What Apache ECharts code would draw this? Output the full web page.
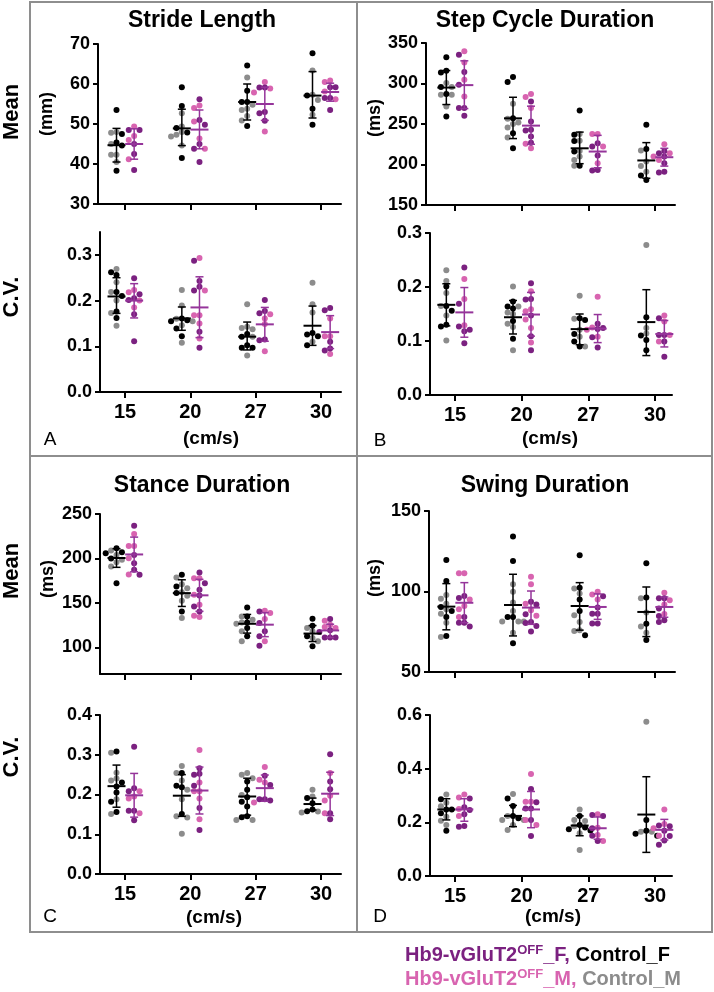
<!DOCTYPE html>
<html lang="en">
  <head>
    <meta charset="UTF-8" />
    <title>Gait parameters</title>
    <script src="https://cdn.jsdelivr.net/npm/echarts@6/dist/echarts.min.js"></script>
    <style>
      html, body { margin: 0; padding: 0; background: #fff; }
    </style>
  </head>
  <body>
    <div id="main" style="width: 714px; height: 992px"></div>
    <script type="text/javascript">
      var speeds = ["15", "20", "27", "30"];

      // A - stride length
      var strideMeanTicks = [30, 40, 50, 60, 70];
      var strideMeanCtrlF = [[53.5, 47.5, 45.4, 44.6, 38.3], [59.2, 54.5, 47.9, 41.5, 49.0], [64.6, 58.3, 55.5, 55.5, 49.5], [67.7, 57.1, 53.8, 49.8]];
      var strideMeanCtrlM = [[48.0, 47.8, 42.3, 42.3, 40.5, 45.0], [52.7, 49.4, 48.0, 47.3, 46.9, 44.6], [61.6, 54.8, 53.8, 53.5, 52.0, 50.9], [63.4, 57.3, 56.0, 52.3]];
      var strideMeanHb9F = [[48.5, 48.5, 45.0, 42.5, 38.5], [56.2, 51.0, 49.8, 45.0, 43.8, 40.5], [59.1, 59.1, 53.0, 52.7, 50.8], [59.2, 59.2, 56.5, 56.5, 53.5]];
      var strideMeanHb9M = [[49.4, 47.0, 46.0, 41.2], [54.6, 54.0, 50.6, 46.4, 43.8], [60.5, 58.9, 57.9, 48.1], [60.9, 60.5, 58.1, 56.2]];
      var strideMeanCtrlBar = [[44.7, 40.5, 48.9], [48.9, 44.6, 53.7], [55.5, 51.0, 60.0], [57.1, 51.5, 63.1]];
      var strideMeanHb9Bar = [[45.0, 41.2, 48.8], [48.6, 43.8, 53.5], [55.0, 50.9, 59.2], [58.0, 55.7, 60.2]];

      var strideCVTicks = [0, 0.1, 0.2, 0.3];
      var strideCVCtrlF = [[0.262, 0.256, 0.219, 0.21, 0.176, 0.162], [0.161, 0.157, 0.155, 0.139, 0.122], [0.127, 0.121, 0.102, 0.097, 0.097], [0.129, 0.126, 0.122, 0.102]];
      var strideCVCtrlM = [[0.269, 0.24, 0.219, 0.2, 0.173, 0.145], [0.223, 0.189, 0.16, 0.155, 0.146, 0.108], [0.192, 0.143, 0.14, 0.137, 0.121, 0.08], [0.239, 0.192, 0.174, 0.11]];
      var strideCVHb9F = [[0.249, 0.214, 0.205, 0.201, 0.17, 0.111], [0.287, 0.243, 0.23, 0.222, 0.132, 0.097], [0.201, 0.177, 0.172, 0.115, 0.113], [0.184, 0.179, 0.11, 0.095, 0.091]];
      var strideCVHb9M = [[0.223, 0.218, 0.2, 0.185], [0.293, 0.222, 0.168, 0.168, 0.15, 0.117], [0.17, 0.161, 0.149, 0.089], [0.161, 0.122, 0.122, 0.083]];
      var strideCVCtrlBar = [[0.209, 0.172, 0.25], [0.161, 0.135, 0.186], [0.121, 0.092, 0.153], [0.145, 0.102, 0.188]];
      var strideCVHb9Bar = [[0.2, 0.162, 0.237], [0.185, 0.119, 0.252], [0.148, 0.111, 0.185], [0.131, 0.095, 0.167]];

      // B - step cycle duration
      var stepMeanTicks = [150, 200, 250, 300, 350];
      var stepMeanCtrlF = [[332.3, 315.8, 313.7, 295.6, 287.0, 259.3], [308.0, 301.7, 257.2, 238.7, 220.0], [266.7, 236.6, 229.0, 216.0, 198.6], [249.0, 219.2, 186.3, 181.0]];
      var stepMeanCtrlM = [[300.5, 295.6, 286.0, 286.0, 271.6], [275.0, 256.4, 252.0, 250.0, 245.7, 233.3], [237.6, 229.2, 216.8, 210.0, 205.7, 198.6], [217.2, 203.6, 198.0, 191.2]];
      var stepMeanHb9F = [[335.6, 314.1, 298.4, 269.6, 269.6, 260.1], [277.8, 253.0, 242.8, 242.0, 234.5, 227.0], [226.3, 222.2, 211.0, 193.3, 192.5], [216.8, 214.0, 210.0, 201.5, 191.2, 190.0]];
      var stepMeanHb9M = [[339.7, 326.0, 304.6, 284.0], [286.9, 283.2, 269.6, 225.5, 220.0], [237.8, 237.8, 222.2, 201.5], [225.0, 214.0, 210.0, 205.7]];
      var stepMeanCtrlBar = [[295, 274, 316], [257, 232, 283], [220, 201, 240], [205, 183, 227]];
      var stepMeanHb9Bar = [[298, 269, 328], [248, 225, 272], [216, 196, 236], [209, 198, 220]];

      var stepCVTicks = [0, 0.1, 0.2, 0.3];
      var stepCVCtrlF = [[0.201, 0.165, 0.156, 0.13, 0.127], [0.173, 0.164, 0.16, 0.137, 0.104], [0.142, 0.139, 0.113, 0.099, 0.09], [0.144, 0.11, 0.102, 0.083]];
      var stepCVCtrlM = [[0.231, 0.211, 0.189, 0.165, 0.147, 0.101], [0.201, 0.164, 0.153, 0.15, 0.132, 0.126, 0.083], [0.184, 0.141, 0.121, 0.108, 0.09], [0.278, 0.124, 0.114]];
      var stepCVHb9F = [[0.236, 0.169, 0.127, 0.121, 0.118, 0.096], [0.207, 0.178, 0.177, 0.147, 0.109, 0.083], [0.132, 0.124, 0.122, 0.107, 0.088], [0.142, 0.111, 0.111, 0.099, 0.071]];
      var stepCVHb9M = [[0.215, 0.178, 0.129], [0.192, 0.159, 0.155, 0.14, 0.124, 0.097], [0.182, 0.125, 0.121, 0.108], [0.147, 0.136, 0.111, 0.099]];
      var stepCVCtrlBar = [[0.167, 0.128, 0.206], [0.144, 0.113, 0.175], [0.122, 0.093, 0.15], [0.135, 0.073, 0.195]];
      var stepCVHb9Bar = [[0.153, 0.107, 0.199], [0.149, 0.109, 0.19], [0.123, 0.097, 0.149], [0.113, 0.089, 0.138]];

      // C - stance duration
      var stanceMeanTicks = [100, 150, 200, 250];
      var stanceMeanCtrlF = [[211.5, 207.0, 205.9, 200.0, 172.2], [181.6, 168.5, 161.0, 140.4], [144.9, 134.8, 128.0, 121.8, 112.4], [132.2, 124.3, 112.4, 101.2]];
      var stanceMeanCtrlM = [[209.0, 204.0, 198.4, 195.8, 190.9], [178.6, 171.0, 166.6, 162.0, 158.0, 152.4, 132.9], [134.8, 131.0, 128.0, 126.6, 118.0, 106.8], [121.7, 118.0, 110.5, 106.8]];
      var stanceMeanHb9F = [[236.9, 204.0, 194.6, 187.2, 181.6], [184.2, 172.2, 164.7, 158.4, 146.0, 140.4], [140.4, 127.3, 118.0, 112.4, 101.9], [131.8, 119.1, 117.2, 111.2, 111.2, 111.2]];
      var stanceMeanHb9M = [[227.6, 214.0, 214.0, 200.3, 182.0], [177.8, 177.8, 159.1, 148.0, 135.6, 134.0], [141.2, 138.5, 132.0, 106.8], [129.9, 125.5, 123.0, 121.7]];
      var stanceMeanCtrlBar = [[200.5, 190, 211], [161, 146, 176], [126.5, 116, 137], [115.5, 106.5, 124.5]];
      var stanceMeanHb9Bar = [[204.5, 185, 224], [158.5, 140.5, 176.5], [125.5, 112, 139], [119, 111, 126]];

      var stanceCVTicks = [0, 0.1, 0.2, 0.3, 0.4];
      var stanceCVCtrlF = [[0.308, 0.23, 0.22, 0.205, 0.182, 0.156], [0.254, 0.222, 0.218, 0.151], [0.233, 0.212, 0.193, 0.182, 0.17, 0.145, 0.143], [0.191, 0.178, 0.162, 0.158]];
      var stanceCVCtrlM = [[0.305, 0.255, 0.24, 0.235, 0.188, 0.151], [0.272, 0.254, 0.235, 0.212, 0.188, 0.145, 0.142, 0.101], [0.254, 0.25, 0.241, 0.199, 0.136, 0.136], [0.212, 0.195, 0.157, 0.155]];
      var stanceCVHb9F = [[0.32, 0.216, 0.208, 0.159, 0.159, 0.135], [0.266, 0.252, 0.25, 0.222, 0.166, 0.111], [0.247, 0.224, 0.188, 0.188, 0.185], [0.301, 0.233, 0.213, 0.153, 0.138]];
      var stanceCVHb9M = [[0.208, 0.195, 0.19, 0.153], [0.312, 0.23, 0.208, 0.208, 0.19, 0.138], [0.269, 0.237, 0.23, 0.18], [0.254, 0.197, 0.185, 0.153]];
      var stanceCVCtrlBar = [[0.221, 0.168, 0.274], [0.197, 0.145, 0.25], [0.195, 0.148, 0.241], [0.176, 0.161, 0.191]];
      var stanceCVHb9Bar = [[0.198, 0.143, 0.253], [0.21, 0.151, 0.269], [0.216, 0.183, 0.249], [0.202, 0.147, 0.256]];

      // D - swing duration
      var swingMeanTicks = [50, 100, 150];
      var swingMeanCtrlF = [[119.6, 106.5, 90.4, 87.9, 84.2, 72.4], [134.1, 119.0, 84.2, 84.2, 67.8], [122.5, 102.4, 95.1, 87.9, 72.8], [117.5, 96.2, 80.0, 69.9]];
      var swingMeanCtrlM = [[97.8, 95.5, 92.4, 88.9, 86.2, 80.6, 71.7], [104.5, 99.9, 93.1, 87.9, 81.3, 81.3, 81.3, 74.4], [101.8, 98.7, 85.2, 81.1, 75.9, 75.5], [95.8, 86.9, 78.2, 74.4]];
      var swingMeanHb9F = [[97.2, 96.0, 84.2, 80.6, 80.6, 78.2], [93.7, 92.0, 85.8, 81.1, 80.5, 78.6, 75.1], [97.0, 90.0, 86.2, 86.2, 80.2, 80.2], [95.8, 95.8, 89.5, 84.8, 82.1, 81.1]];
      var swingMeanHb9M = [[111.3, 111.3, 95.1, 91.0, 88.9, 84.2], [109.2, 104.5, 92.4, 88.3, 85.0], [99.9, 98.2, 95.1], [99.3, 94.5, 92.0, 86.0]];
      var swingMeanCtrlBar = [[90.6, 76.2, 104.9], [91.6, 72.4, 110.7], [91, 76, 105.5], [87.3, 72, 102.8]];
      var swingMeanHb9Bar = [[93, 80.6, 105.5], [90, 79.6, 100.3], [90.4, 82.7, 98.5], [90.4, 84, 96.6]];

      var swingCVTicks = [0, 0.2, 0.4, 0.6];
      var swingCVCtrlF = [[0.286, 0.248, 0.248, 0.234, 0.169], [0.289, 0.261, 0.224, 0.215], [0.224, 0.19, 0.181, 0.174, 0.17], [0.209, 0.169, 0.157, 0.15]];
      var swingCVCtrlM = [[0.304, 0.273, 0.26, 0.221, 0.206, 0.19], [0.306, 0.224, 0.209, 0.209, 0.19, 0.171], [0.248, 0.209, 0.205, 0.185, 0.159, 0.097], [0.575, 0.165, 0.165]];
      var swingCVHb9F = [[0.289, 0.256, 0.246, 0.23, 0.186, 0.184], [0.324, 0.275, 0.252, 0.252, 0.209, 0.149], [0.227, 0.224, 0.178, 0.15, 0.13], [0.188, 0.185, 0.169, 0.149, 0.132, 0.116]];
      var swingCVHb9M = [[0.304, 0.293, 0.25, 0.224], [0.38, 0.277, 0.277, 0.209, 0.19], [0.23, 0.18, 0.153, 0.13], [0.248, 0.194, 0.178, 0.15]];
      var swingCVCtrlBar = [[0.248, 0.209, 0.288], [0.224, 0.184, 0.263], [0.188, 0.15, 0.224], [0.229, 0.088, 0.37]];
      var swingCVHb9Bar = [[0.248, 0.204, 0.288], [0.248, 0.18, 0.315], [0.178, 0.137, 0.22], [0.172, 0.134, 0.211]];

      var FONT = '"Liberation Sans", Arial, Helvetica, sans-serif';
      var BLACK = "#000000";
      var GRAY = "#8c8c8c";
      var PURPLE = "#7b2180";
      var PINK = "#d864b0";
      var HB9_BAR = "#95349a";
      var FRAME = "#8e8e8e";

      // grid boxes in pixels; c0/c3 = x of the first and last speed tick
      var subplots = [
        { f: strideMeanCtrlF, m: strideMeanCtrlM, hf: strideMeanHb9F, hm: strideMeanHb9M, cb: strideMeanCtrlBar, hb: strideMeanHb9Bar,
          ticks: strideMeanTicks, min: 30, max: 70, x0: 98, x1: 341, y0: 44, y1: 204, c0: 125, c3: 321, xLabels: false, dec: 0 },
        { f: strideCVCtrlF, m: strideCVCtrlM, hf: strideCVHb9F, hm: strideCVHb9M, cb: strideCVCtrlBar, hb: strideCVHb9Bar,
          ticks: strideCVTicks, min: 0, max: 0.35, x0: 100, x1: 341, y0: 232, y1: 392, c0: 125, c3: 321, xLabels: true, dec: 1 },
        { f: stepMeanCtrlF, m: stepMeanCtrlM, hf: stepMeanHb9F, hm: stepMeanHb9M, cb: stepMeanCtrlBar, hb: stepMeanHb9Bar,
          ticks: stepMeanTicks, min: 150, max: 350, x0: 426, x1: 675, y0: 43, y1: 205, c0: 455, c3: 655, xLabels: false, dec: 0 },
        { f: stepCVCtrlF, m: stepCVCtrlM, hf: stepCVHb9F, hm: stepCVHb9M, cb: stepCVCtrlBar, hb: stepCVHb9Bar,
          ticks: stepCVTicks, min: 0, max: 0.3, x0: 430, x1: 672, y0: 233, y1: 395, c0: 455, c3: 655, xLabels: true, dec: 1 },
        { f: stanceMeanCtrlF, m: stanceMeanCtrlM, hf: stanceMeanHb9F, hm: stanceMeanHb9M, cb: stanceMeanCtrlBar, hb: stanceMeanHb9Bar,
          ticks: stanceMeanTicks, min: 70, max: 250, x0: 100, x1: 341, y0: 514, y1: 674, c0: 125, c3: 321, xLabels: false, dec: 0 },
        { f: stanceCVCtrlF, m: stanceCVCtrlM, hf: stanceCVHb9F, hm: stanceCVHb9M, cb: stanceCVCtrlBar, hb: stanceCVHb9Bar,
          ticks: stanceCVTicks, min: 0, max: 0.4, x0: 100, x1: 341, y0: 715, y1: 874, c0: 125, c3: 321, xLabels: true, dec: 1 },
        { f: swingMeanCtrlF, m: swingMeanCtrlM, hf: swingMeanHb9F, hm: swingMeanHb9M, cb: swingMeanCtrlBar, hb: swingMeanHb9Bar,
          ticks: swingMeanTicks, min: 50, max: 150, x0: 429, x1: 675, y0: 511, y1: 672, c0: 455, c3: 655, xLabels: false, dec: 0 },
        { f: swingCVCtrlF, m: swingCVCtrlM, hf: swingCVHb9F, hm: swingCVHb9M, cb: swingCVCtrlBar, hb: swingCVHb9Bar,
          ticks: swingCVTicks, min: 0, max: 0.6, x0: 430, x1: 672, y0: 715, y1: 876, c0: 455, c3: 655, xLabels: true, dec: 1 },
      ];

      var CTRL_SHIFT = -0.13;
      var HB9_SHIFT = 0.14;

      // simple beeswarm: returns x offsets (category units) for each value
      function swarm(values, pxY, pxX) {
        var D = 5.4;
        var idx = values.map(function (v, i) { return i; });
        idx.sort(function (a, b) { return values[b] - values[a]; });
        var placed = [];
        var offs = [];
        idx.forEach(function (i) {
          var y = values[i] * pxY;
          for (var k = 0; k < 13; k++) {
            var o = k === 0 ? 0 : (k % 2 ? -1 : 1) * Math.ceil(k / 2) * D;
            var free = placed.every(function (p) {
              return Math.hypot(p[0] - o, p[1] - y) >= D - 0.01;
            });
            if (free) {
              offs[i] = o / pxX;
              placed.push([o, y]);
              return;
            }
          }
          offs[i] = 0;
        });
        return offs;
      }

      function groupPoints(fArr, mArr, shift, pxY, pxX) {
        var fPts = [], mPts = [];
        for (var j = 0; j < speeds.length; j++) {
          var vals = fArr[j].concat(mArr[j]);
          var offs = swarm(vals, pxY, pxX);
          fArr[j].forEach(function (v, k) { fPts.push([j + shift + offs[k], v]); });
          mArr[j].forEach(function (v, k) { mPts.push([j + shift + offs[fArr[j].length + k], v]); });
        }
        return [fPts, mPts];
      }

      var grids = [], xAxes = [], yAxes = [], series = [];

      subplots.forEach(function (p, i) {
        var spacing = (p.c3 - p.c0) / 3;
        var xmin = -(p.c0 - p.x0) / spacing;
        var xmax = 3 + (p.x1 - p.c3) / spacing;
        var pxY = (p.y1 - p.y0) / (p.max - p.min);

        grids.push({ left: p.x0, top: p.y0, width: p.x1 - p.x0, height: p.y1 - p.y0, containLabel: false, outerBoundsMode: "none" });

        xAxes.push({
          type: "value", gridIndex: i, min: xmin, max: xmax,
          axisLine: { onZero: false, lineStyle: { color: BLACK, width: 2 } },
          axisTick: { show: true, length: 6, lineStyle: { color: BLACK, width: 2 }, customValues: [0, 1, 2, 3] },
          axisLabel: {
            show: p.xLabels, customValues: [0, 1, 2, 3], margin: 10,
            fontSize: 20, fontWeight: "bold", fontFamily: FONT, color: BLACK,
            formatter: function (v) { return speeds[Math.round(v)]; },
          },
          splitLine: { show: false },
        });

        yAxes.push({
          type: "value", gridIndex: i, min: p.min, max: p.max,
          axisLine: { show: true, onZero: false, lineStyle: { color: BLACK, width: 2 } },
          axisTick: { show: true, length: 5, lineStyle: { color: BLACK, width: 2 }, customValues: p.ticks },
          axisLabel: {
            customValues: p.ticks, margin: 8,
            fontSize: 18, fontWeight: "bold", fontFamily: FONT, color: BLACK,
            formatter: function (v) { return v.toFixed(p.dec); },
          },
          splitLine: { show: false },
        });

        var ctrl = groupPoints(p.f, p.m, CTRL_SHIFT, pxY, spacing);
        var hb9 = groupPoints(p.hf, p.hm, HB9_SHIFT, pxY, spacing);

        [
          [ctrl[1], GRAY], [ctrl[0], BLACK], [hb9[1], PINK], [hb9[0], PURPLE],
        ].forEach(function (s) {
          series.push({
            type: "scatter", xAxisIndex: i, yAxisIndex: i, data: s[0],
            symbol: "circle", symbolSize: 6, itemStyle: { color: s[1], opacity: 1 },
            silent: true, z: 2,
          });
        });

        var bars = [];
        p.cb.forEach(function (b, j) { bars.push([j + CTRL_SHIFT, b[0], b[1], b[2], 0]); });
        p.hb.forEach(function (b, j) { bars.push([j + HB9_SHIFT, b[0], b[1], b[2], 1]); });

        series.push({
          type: "custom", xAxisIndex: i, yAxisIndex: i, data: bars, z: 3, silent: true,
          encode: { x: 0, y: [1, 2, 3] },
          renderItem: function (params, api) {
            var x = api.value(0);
            var pm = api.coord([x, api.value(1)]);
            var pl = api.coord([x, api.value(2)]);
            var ph = api.coord([x, api.value(3)]);
            var col = api.value(4) ? HB9_BAR : BLACK;
            var st = { stroke: col, lineWidth: 1.5, fill: null };
            return {
              type: "group",
              children: [
                { type: "line", shape: { x1: pl[0], y1: pl[1], x2: ph[0], y2: ph[1] }, style: st },
                { type: "line", shape: { x1: ph[0] - 4, y1: ph[1], x2: ph[0] + 4, y2: ph[1] }, style: st },
                { type: "line", shape: { x1: pl[0] - 4, y1: pl[1], x2: pl[0] + 4, y2: pl[1] }, style: st },
                { type: "line", shape: { x1: pm[0] - 9, y1: pm[1], x2: pm[0] + 9, y2: pm[1] }, style: { stroke: col, lineWidth: 2 } },
              ],
            };
          },
        });
      });

      function txt(text, x, y, size, opts) {
        opts = opts || {};
        return {
          type: "text", x: x, y: y, rotation: opts.rot || 0, silent: true,
          style: {
            text: text, fill: opts.color || BLACK, fontSize: size,
            fontWeight: opts.weight || "bold", fontFamily: FONT,
            align: "center", verticalAlign: "middle",
          },
        };
      }

      var V = Math.PI / 2;
      var graphics = [
        // frame
        { type: "rect", shape: { x: 30, y: 2, width: 682, height: 930 }, style: { fill: null, stroke: FRAME, lineWidth: 2 }, silent: true },
        { type: "line", shape: { x1: 357, y1: 2, x2: 357, y2: 932 }, style: { stroke: FRAME, lineWidth: 2 }, silent: true },
        { type: "line", shape: { x1: 30, y1: 456, x2: 712, y2: 456 }, style: { stroke: FRAME, lineWidth: 2 }, silent: true },
        // titles
        txt("Stride Length", 202, 21, 23),
        txt("Step Cycle Duration", 545, 21, 23),
        txt("Stance Duration", 202, 486, 23),
        txt("Swing Duration", 545, 486, 23),
        // row labels
        txt("Mean", 12, 112, 22, { rot: V }),
        txt("C.V.", 12, 297, 22, { rot: V }),
        txt("Mean", 12, 571, 22, { rot: V }),
        txt("C.V.", 12, 757, 22, { rot: V }),
        // units
        txt("(mm)", 47, 114, 18, { rot: V }),
        txt("(ms)", 375, 118, 18, { rot: V }),
        txt("(ms)", 48, 579, 18, { rot: V }),
        txt("(ms)", 375, 578, 18, { rot: V }),
        txt("(cm/s)", 211, 439, 19),
        txt("(cm/s)", 550, 439, 19),
        txt("(cm/s)", 214, 918, 19),
        txt("(cm/s)", 553, 917, 19),
        // panel letters
        txt("A", 50, 440, 19, { weight: "normal" }),
        txt("B", 380, 441, 19, { weight: "normal" }),
        txt("C", 50, 917, 19, { weight: "normal" }),
        txt("D", 380, 917, 19, { weight: "normal" }),
      ];

      function legendLine(y, hbCol, ctrlCol, sex) {
        return {
          type: "text", x: 405, y: y, silent: true,
          style: {
            text: "{a|Hb9-vGluT2}{s|OFF}{a|_" + sex + ", }{b|Control_" + sex + "}",
            align: "left", verticalAlign: "middle",
            rich: {
              a: { fill: hbCol, fontSize: 20, fontWeight: "bold", fontFamily: FONT, lineHeight: 22 },
              s: { fill: hbCol, fontSize: 13, fontWeight: "bold", fontFamily: FONT, lineHeight: 22, verticalAlign: "top" },
              b: { fill: ctrlCol, fontSize: 20, fontWeight: "bold", fontFamily: FONT, lineHeight: 22 },
            },
          },
        };
      }
      graphics.push(legendLine(955, PURPLE, BLACK, "F"));
      graphics.push(legendLine(979, PINK, GRAY, "M"));

      var chartDom = document.getElementById("main");
      var myChart = echarts.init(chartDom, null, { renderer: "canvas" });
      var option = {
        animation: false,
        backgroundColor: "#ffffff",
        grid: grids,
        xAxis: xAxes,
        yAxis: yAxes,
        series: series,
        graphic: graphics,
      };
      myChart.setOption(option);
    </script>
  </body>
</html>
